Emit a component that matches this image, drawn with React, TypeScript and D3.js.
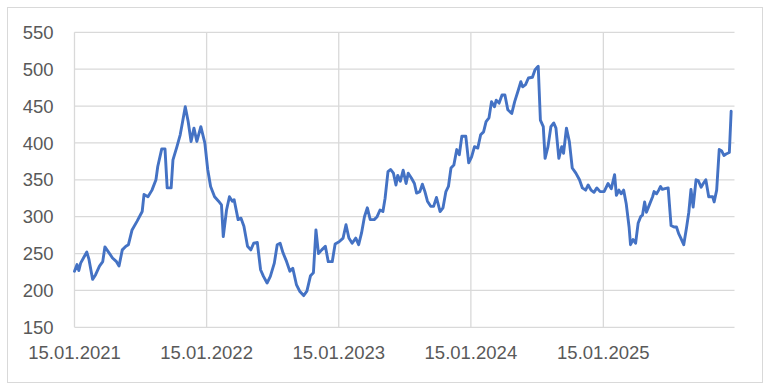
import React from "react";
import * as d3 from "d3";

const dates: string[] = [
  "2021-01-15","2021-01-22","2021-01-27","2021-02-01","2021-02-11","2021-02-18","2021-02-24","2021-03-06","2021-03-14","2021-03-25",
  "2021-04-03","2021-04-09","2021-04-19","2021-04-30","2021-05-11","2021-05-18","2021-05-27","2021-06-06","2021-06-13","2021-06-23",
  "2021-07-07","2021-07-21","2021-07-26","2021-08-06","2021-08-17","2021-08-28","2021-09-02","2021-09-13","2021-09-22","2021-09-28",
  "2021-10-09","2021-10-14","2021-10-25","2021-11-03","2021-11-09","2021-11-17","2021-11-25","2021-12-03","2021-12-11","2021-12-19",
  "2021-12-30","2022-01-10","2022-01-18","2022-01-26","2022-02-06","2022-02-17","2022-02-25","2022-03-02","2022-03-11","2022-03-19",
  "2022-03-27","2022-04-01","2022-04-12","2022-04-20","2022-04-28","2022-05-08","2022-05-17","2022-05-25","2022-06-04","2022-06-13",
  "2022-06-21","2022-07-01","2022-07-10","2022-07-21","2022-07-29","2022-08-06","2022-08-14","2022-08-24","2022-09-02","2022-09-10",
  "2022-09-20","2022-09-29","2022-10-10","2022-10-19","2022-10-29","2022-11-06","2022-11-13","2022-11-20","2022-11-29","2022-12-09",
  "2022-12-17","2022-12-28","2023-01-05","2023-01-16","2023-01-27","2023-02-04","2023-02-12","2023-02-21","2023-03-03","2023-03-11",
  "2023-03-19","2023-03-27","2023-04-04","2023-04-12","2023-04-23","2023-05-01","2023-05-09","2023-05-17","2023-05-23","2023-05-31",
  "2023-06-07","2023-06-15","2023-06-22","2023-06-27","2023-07-04","2023-07-12","2023-07-20","2023-07-26","2023-08-04","2023-08-12",
  "2023-08-18","2023-08-27","2023-09-03","2023-09-10","2023-09-17","2023-09-26","2023-10-04","2023-10-12","2023-10-22","2023-10-30",
  "2023-11-07","2023-11-14","2023-11-21","2023-11-29","2023-12-07","2023-12-14","2023-12-21","2024-01-01","2024-01-09","2024-01-17",
  "2024-01-25","2024-02-03","2024-02-11","2024-02-19","2024-02-26","2024-03-05","2024-03-12","2024-03-20","2024-03-25","2024-04-02",
  "2024-04-10","2024-04-18","2024-04-26","2024-05-07","2024-05-15","2024-05-24","2024-06-01","2024-06-06","2024-06-14","2024-06-22",
  "2024-07-03","2024-07-10","2024-07-17","2024-07-19","2024-07-25","2024-08-02","2024-08-07","2024-08-15","2024-08-23","2024-08-31",
  "2024-09-06","2024-09-14","2024-09-22","2024-09-27","2024-10-05","2024-10-13","2024-10-21","2024-10-31","2024-11-10","2024-11-18",
  "2024-11-27","2024-12-04","2024-12-12","2024-12-20","2024-12-28","2025-01-06","2025-01-17","2025-01-28","2025-02-06","2025-02-15",
  "2025-02-20","2025-02-27","2025-03-05","2025-03-12","2025-03-19","2025-03-27","2025-03-31","2025-04-07","2025-04-14","2025-04-21",
  "2025-04-28","2025-05-03","2025-05-09","2025-05-14","2025-05-22","2025-05-31","2025-06-04","2025-06-11","2025-06-17","2025-06-22",
  "2025-06-27","2025-07-04","2025-07-13","2025-07-21","2025-07-29","2025-08-05","2025-08-11","2025-08-16","2025-08-25","2025-09-02",
  "2025-09-08","2025-09-14","2025-09-20","2025-09-28","2025-10-04","2025-10-12","2025-10-18","2025-10-25","2025-11-02","2025-11-07",
  "2025-11-13","2025-11-17","2025-11-24","2025-12-01","2025-12-08","2025-12-14","2025-12-20","2025-12-29","2026-01-03"
];

const values: number[] = [
  226,235,227,237,246,252,242,215,221,233,
  239,259,252,244,239,233,255,260,262,282,
  294,307,330,327,336,350,368,392,392,339,
  339,377,395,411,427,449,429,402,420,402,
  422,400,364,341,327,321,316,273,309,327,
  321,323,296,298,287,260,255,264,265,228,
  219,210,219,237,262,264,251,239,226,230,
  208,199,193,199,220,224,282,250,255,260,
  239,239,263,266,271,289,271,264,271,262,
  278,300,312,296,296,300,309,307,325,361,
  364,359,343,356,348,363,345,359,352,345,
  332,334,344,334,321,314,314,326,307,312,
  334,341,366,370,391,384,409,409,373,381,
  395,393,411,415,429,434,456,449,458,454,
  465,465,445,440,456,470,483,476,479,488,
  489,499,503,504,431,422,379,395,422,427,
  420,379,395,386,420,402,366,359,350,339,
  336,343,336,333,339,334,334,345,338,357,
  329,336,331,336,318,286,262,269,264,291,
  300,302,320,306,316,327,334,331,336,341,
  337,338,339,288,286,286,277,272,262,286,
  306,337,313,350,349,340,345,350,327,327,
  327,320,336,391,389,383,385,387,443
];

const yTicks: number[] = [150, 200, 250, 300, 350, 400, 450, 500, 550];
const xTickLabels: string[] = ["15.01.2021", "15.01.2022", "15.01.2023", "15.01.2024", "15.01.2025"];

const W = 765;
const H = 385;
const left = 74.5;
const right = 734.5;
const top = 32.3;
const bottom = 327.3;

export default function App() {
  const parse = d3.timeParse("%Y-%m-%d");
  const parseLabel = d3.timeParse("%d.%m.%Y");
  const data = dates.map((d, i) => ({ date: parse(d) as Date, value: values[i] }));

  const x = d3
    .scaleTime()
    .domain([parse("2021-01-15") as Date, parse("2026-01-15") as Date])
    .range([left, left + 132.2 * 5]);
  const y = d3.scaleLinear().domain([150, 550]).range([bottom, top]);

  const line = d3
    .line<{ date: Date; value: number }>()
    .x((d) => x(d.date))
    .y((d) => y(d.value));

  const textColor = "#595959";
  const gridColor = "#d9d9d9";
  const font = "'Liberation Sans', Arial, sans-serif";

  return (
    <svg
      width={W}
      height={H}
      style={{ position: "absolute", left: 0, top: 0, background: "#fff" }}
    >
      <rect x={7.5} y={7.5} width={755} height={375} fill="#fff" stroke="#d9d9d9" strokeWidth={1} />
      {yTicks.map((t) => (
        <line key={"h" + t} x1={left} x2={right} y1={y(t)} y2={y(t)} stroke={gridColor} strokeWidth={1.3} />
      ))}
      {xTickLabels.map((l) => {
        const xx = x(parseLabel(l) as Date);
        return <line key={"v" + l} x1={xx} x2={xx} y1={top} y2={bottom} stroke={gridColor} strokeWidth={1.3} />;
      })}
      {yTicks.map((t) => (
        <text
          key={"yl" + t}
          x={53.5}
          y={y(t) + 6.6}
          textAnchor="end"
          fontFamily={font}
          fontSize={18.5}
          fill={textColor}
        >
          {t}
        </text>
      ))}
      {xTickLabels.map((l) => (
        <text
          key={"xl" + l}
          x={x(parseLabel(l) as Date)}
          y={359}
          textAnchor="middle"
          fontFamily={font}
          fontSize={18.5}
          fill={textColor}
        >
          {l}
        </text>
      ))}
      <path
        d={line(data) || ""}
        fill="none"
        stroke="#4472C4"
        strokeWidth={2.9}
        strokeLinejoin="round"
        strokeLinecap="round"
      />
    </svg>
  );
}
